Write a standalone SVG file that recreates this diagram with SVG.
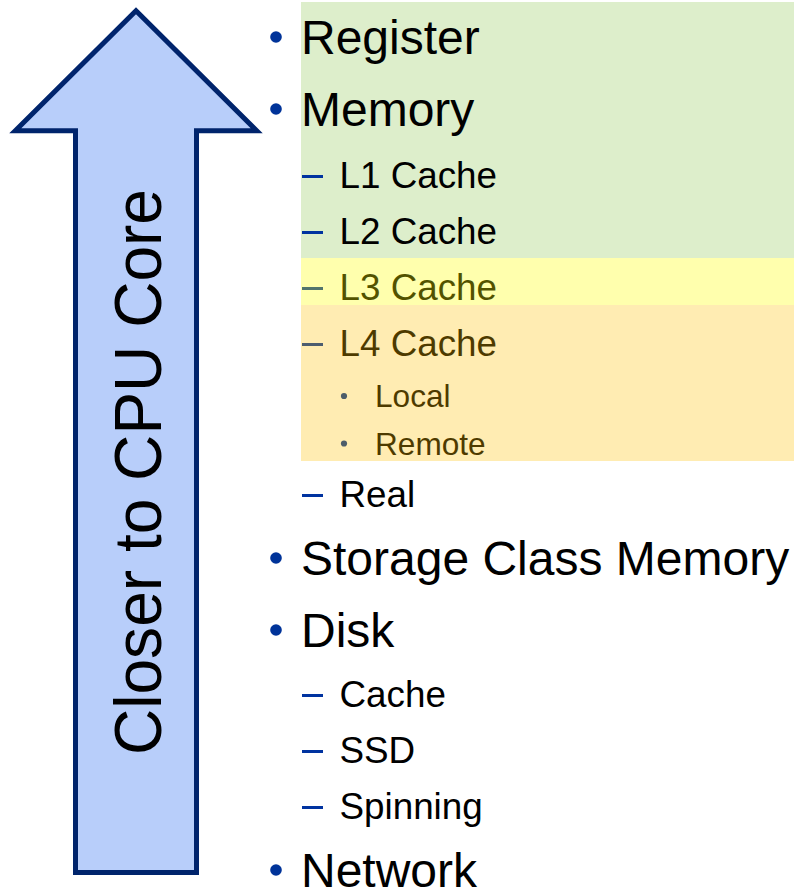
<svg xmlns="http://www.w3.org/2000/svg" width="794" height="888" viewBox="0 0 794 888">
<style>
text{font-family:"Liberation Sans",Arial,sans-serif;fill:#000}
.l1{font-size:48px}
.l2{font-size:36.8px}
.l3{font-size:31.6px}
.b{fill:#003399}
.d{fill:#0033A0}
</style>
<rect width="794" height="888" fill="#fff"/>
<g id="arrow">
<polygon points="136,10.8 15.3,130.8 75.5,130.8 75.5,872.5 196.5,872.5 196.5,130.8 256.7,130.8" fill="#B8CEFA" stroke="#00246C" stroke-width="5" stroke-miterlimit="10"/>
<text transform="translate(161,472) rotate(-90)" x="0" y="0" text-anchor="middle" font-size="66" textLength="566" lengthAdjust="spacingAndGlyphs">Closer to CPU Core</text>
</g>
<rect id="band-green" x="301" y="2" width="493" height="256" fill="#DDEECB"/>
<g id="list">
<g id="register"><circle class="b" cx="276" cy="37" r="5.8"/><text class="l1" x="301" y="54">Register</text></g>
<g id="memory"><circle class="b" cx="276" cy="109" r="5.8"/><text class="l1" x="301" y="126">Memory</text></g>
<g id="l1cache"><rect class="d" x="302" y="175" width="21" height="3"/><text class="l2" x="339.5" y="188">L1 Cache</text></g>
<g id="l2cache"><rect class="d" x="302" y="231" width="21" height="3"/><text class="l2" x="339.5" y="244">L2 Cache</text></g>
<g id="l3cache"><rect class="d" x="302" y="287" width="21" height="3"/><text class="l2" x="339.5" y="300">L3 Cache</text></g>
<g id="l4cache"><rect class="d" x="302" y="343" width="21" height="3"/><text class="l2" x="339.5" y="356">L4 Cache</text></g>
<g id="local"><circle class="b" cx="344" cy="396" r="3.1"/><text class="l3" x="375" y="407">Local</text></g>
<g id="remote"><circle class="b" cx="344" cy="443.5" r="3.1"/><text class="l3" x="375" y="455">Remote</text></g>
<g id="real"><rect class="d" x="302" y="494" width="21" height="3"/><text class="l2" x="339.5" y="507">Real</text></g>
<g id="scm"><circle class="b" cx="276" cy="558" r="5.8"/><text class="l1" x="301" y="575">Storage Class Memory</text></g>
<g id="disk"><circle class="b" cx="276" cy="630" r="5.8"/><text class="l1" x="301" y="647">Disk</text></g>
<g id="dcache"><rect class="d" x="302" y="694" width="21" height="3"/><text class="l2" x="339.5" y="707">Cache</text></g>
<g id="ssd"><rect class="d" x="302" y="750" width="21" height="3"/><text class="l2" x="339.5" y="763">SSD</text></g>
<g id="spinning"><rect class="d" x="302" y="806" width="21" height="3"/><text class="l2" x="339.5" y="819">Spinning</text></g>
<g id="network"><circle class="b" cx="276" cy="870" r="5.8"/><text class="l1" x="301" y="887">Network</text></g>
</g>
<rect id="band-yellow" x="301" y="258" width="493" height="47" fill="#FFFF00" fill-opacity="0.32"/>
<rect id="band-orange" x="301" y="305" width="493" height="156" fill="#FFC000" fill-opacity="0.3"/>
</svg>
